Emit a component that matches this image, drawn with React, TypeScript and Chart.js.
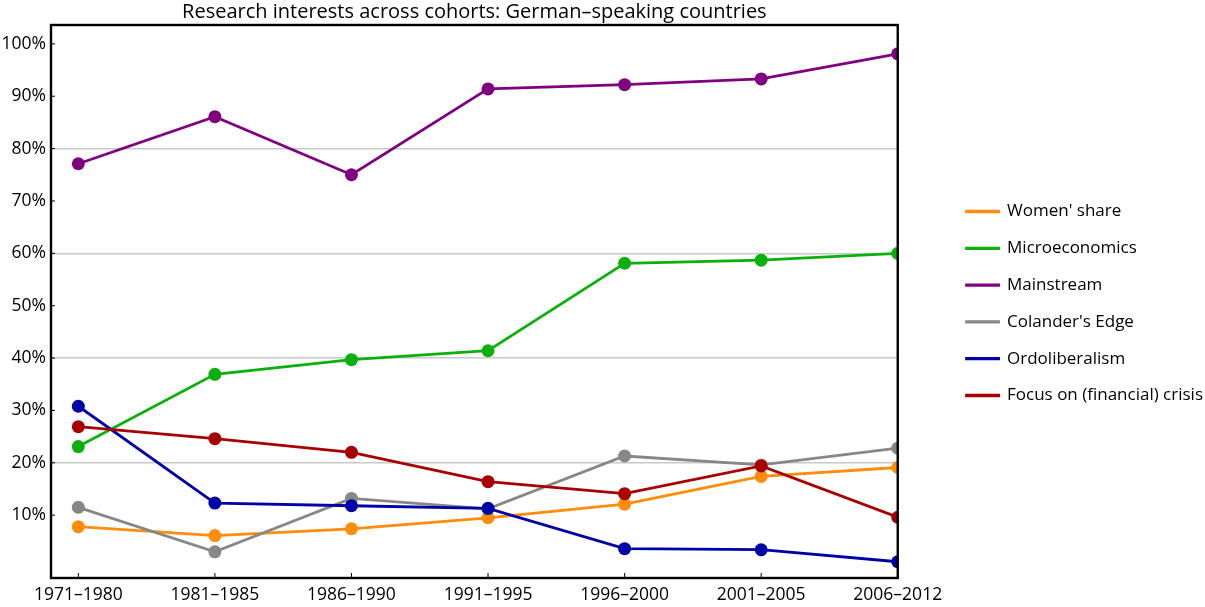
import React, { useEffect, useRef } from "react";
import { Chart, registerables } from "chart.js";

Chart.register(...registerables);

const categories = ["1971–1980", "1981–1985", "1986–1990", "1991–1995", "1996–2000", "2001–2005", "2006–2012"];
const womenShare = [7.8, 6.1, 7.4, 9.5, 12.1, 17.4, 19.1];
const microeconomics = [23.1, 36.9, 39.7, 41.4, 58.1, 58.7, 60.0];
const mainstream = [77.1, 86.1, 75.0, 91.4, 92.2, 93.3, 98.1];
const colandersEdge = [11.5, 3.0, 13.2, 11.2, 21.3, 19.6, 22.8];
const ordoliberalism = [30.8, 12.3, 11.8, 11.3, 3.6, 3.4, 1.1];
const financialCrisis = [26.9, 24.6, 22.0, 16.4, 14.1, 19.4, 9.6];
const seriesNames = ["Women' share", "Microeconomics", "Mainstream", "Colander's Edge", "Ordoliberalism", "Focus on (financial) crisis"];
const seriesColors = ["#ff8c0a", "#0cb00c", "#800080", "#878787", "#0000a8", "#a80000"];
const yTicks = [10, 20, 30, 40, 50, 60, 70, 80, 90, 100];
const gridValues = [20, 40, 60, 80];

const FONT = "'Open Sans', sans-serif";
const LEGEND_GAP = 49;

const framePlugin = {
  id: "frame",
  afterDraw(chart: any) {
    const { ctx, chartArea } = chart;
    const { left, top, right, bottom } = chartArea;
    ctx.save();
    ctx.strokeStyle = "#000";
    ctx.lineWidth = 2.4;
    ctx.strokeRect(left, top, right - left, bottom - top);
    const xs = chart.scales.x;
    const ys = chart.scales.y;
    ctx.lineWidth = 1;
    xs.ticks.forEach((t: any) => {
      const px = xs.getPixelForValue(t.value);
      ctx.beginPath();
      ctx.moveTo(px, bottom);
      ctx.lineTo(px, bottom - 5);
      ctx.stroke();
    });
    ys.ticks.forEach((t: any) => {
      const py = ys.getPixelForValue(t.value);
      ctx.beginPath();
      ctx.moveTo(left, py);
      ctx.lineTo(left + 4, py);
      ctx.stroke();
    });
    ctx.restore();
  },
};

// reserves empty space between the plot and the legend
const legendGapPlugin = {
  id: "legendGap",
  beforeLayout(chart: any) {
    const lg = chart.legend;
    if (lg && !lg.__gapPatched) {
      const origFit = lg.fit.bind(lg);
      lg.fit = function () {
        origFit();
        this.width += LEGEND_GAP;
      };
      lg.__gapPatched = true;
    }
  },
  afterLayout(chart: any) {
    const lg = chart.legend;
    if (lg) {
      lg.left += LEGEND_GAP;
      lg.width -= LEGEND_GAP;
    }
  },
};

export default function App() {
  const canvasRef = useRef<HTMLCanvasElement | null>(null);

  useEffect(() => {
    if (!canvasRef.current) return;
    const allSeries = [womenShare, microeconomics, mainstream, colandersEdge, ordoliberalism, financialCrisis];
    const n = allSeries.length;
    const chart = new Chart(canvasRef.current, {
      type: "line",
      data: {
        datasets: allSeries.map((vals, i) => ({
          label: seriesNames[i],
          data: vals.map((v, j) => ({ x: j, y: v })),
          borderColor: seriesColors[i],
          backgroundColor: seriesColors[i],
          pointBackgroundColor: seriesColors[i],
          pointBorderColor: seriesColors[i],
          borderWidth: 2.8,
          pointRadius: 6.5,
          pointHoverRadius: 6.5,
          pointBorderWidth: 0,
          tension: 0,
          clip: 0,
          order: n - i,
        })),
      },
      options: {
        animation: false,
        responsive: true,
        maintainAspectRatio: false,
        events: [],
        layout: { padding: { left: 0, right: -8, top: 0, bottom: 0 } },
        plugins: {
          title: {
            display: true,
            text: "Research interests across cohorts: German–speaking countries",
            color: "#000",
            font: { family: FONT, size: 20, weight: "normal" },
            padding: { top: 0, bottom: 1 },
            fullSize: false,
          },
          legend: {
            display: true,
            position: "right",
            align: "center",
            labels: {
              color: "#000",
              font: { family: FONT, size: 17 },
              boxWidth: 32,
              boxHeight: 0.5,
              padding: 19.8,
              sort: (a: any, b: any) => a.datasetIndex - b.datasetIndex,
            },
          },
          tooltip: { enabled: false },
        },
        scales: {
          x: {
            type: "linear",
            min: -0.2,
            max: 6,
            afterBuildTicks: (scale: any) => {
              scale.ticks = categories.map((_, i) => ({ value: i }));
            },
            afterFit: (scale: any) => {
              scale.height = 29;
            },
            grid: { display: false, drawTicks: false },
            border: { display: false },
            ticks: {
              color: "#000",
              font: { family: FONT, size: 17.5 },
              padding: 7,
              autoSkip: false,
              maxRotation: 0,
              callback: (v: any) => categories[Math.round(Number(v))],
            },
          },
          y: {
            type: "linear",
            min: -2,
            max: 103.6,
            afterBuildTicks: (scale: any) => {
              scale.ticks = yTicks.map((v) => ({ value: v }));
            },
            afterFit: (scale: any) => {
              scale.width = 51;
            },
            grid: {
              drawTicks: false,
              lineWidth: 1.5,
              color: (ctx: any) =>
                ctx.tick && gridValues.includes(ctx.tick.value) ? "#c8c8c8" : "rgba(0,0,0,0)",
            },
            border: { display: false },
            ticks: {
              color: "#000",
              font: { family: FONT, size: 17.5 },
              padding: 5,
              callback: (v: any) => `${v}%`,
            },
          },
        },
      },
      plugins: [legendGapPlugin, framePlugin],
    } as any);
    return () => chart.destroy();
  }, []);

  return (
    <div style={{ position: "fixed", left: 0, top: 0, width: 1205, height: 607, background: "#fff" }}>
      <canvas ref={canvasRef} />
    </div>
  );
}
